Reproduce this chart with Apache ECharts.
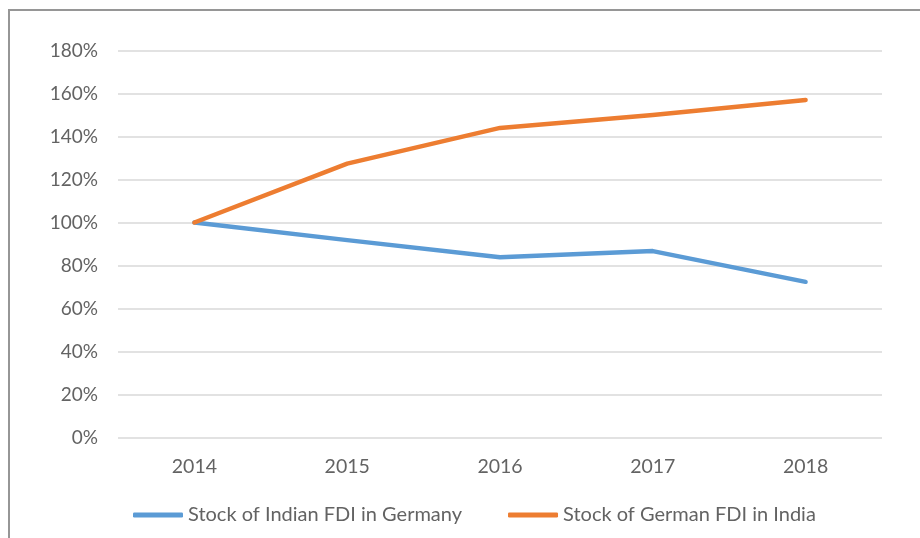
<!DOCTYPE html>
<html><head><meta charset="utf-8">
<script src="https://cdn.jsdelivr.net/npm/echarts@6/dist/echarts.min.js"></script>
<style>
html,body{margin:0;padding:0;background:#fff;}
#frame{position:absolute;left:8px;top:9px;width:920px;height:540px;border-left:2px solid #969696;border-top:2px solid #969696;box-sizing:border-box;}
#c{position:absolute;left:0;top:0;width:920px;height:538px;}
</style></head>
<body>
<div id="frame"></div>
<div id="c"></div>
<script>
const years = ['2014','2015','2016','2017','2018'];
const indianFdiInGermany = [100, 91.8, 83.8, 86.7, 72.4];
const germanFdiInIndia = [100, 127.4, 144.0, 150.0, 157.0];
const seriesNames = ['Stock of Indian FDI in Germany', 'Stock of German FDI in India'];

const chart = echarts.init(document.getElementById('c'));
const font = 'Lato, "Open Sans", sans-serif';
chart.setOption({
  animation: false,
  textStyle: {fontFamily: font},
  grid: {left: 118, right: 38, top: 50.5, bottom: 100.5, containLabel: false},
  legend: {
    bottom: 8, left: 128, itemWidth: 50, itemHeight: 5, itemGap: 46,
    icon: 'roundRect',
    textStyle: {color: '#636363', fontSize: 20, fontFamily: font},
    data: seriesNames
  },
  xAxis: {
    type: 'category', data: years, boundaryGap: true,
    axisLine: {show: false}, axisTick: {show: false},
    axisLabel: {color: '#636363', fontSize: 19.5, margin: 19, fontFamily: font}
  },
  yAxis: {
    type: 'value', min: 0, max: 180, interval: 20,
    axisLine: {show: false}, axisTick: {show: false},
    axisLabel: {color: '#636363', fontSize: 19, margin: 20, fontFamily: font, formatter: '{value}%'},
    splitLine: {lineStyle: {color: '#d9d9d9', width: 1.5}}
  },
  series: [
    {name: seriesNames[0], type: 'line', data: indianFdiInGermany, symbol: 'none',
     lineStyle: {color: '#5B9BD5', width: 4.5, cap: 'round', join: 'round'}, itemStyle: {color: '#5B9BD5'}},
    {name: seriesNames[1], type: 'line', data: germanFdiInIndia, symbol: 'none',
     lineStyle: {color: '#ED7D31', width: 4.5, cap: 'round', join: 'round'}, itemStyle: {color: '#ED7D31'}}
  ]
});
</script>
</body></html>
